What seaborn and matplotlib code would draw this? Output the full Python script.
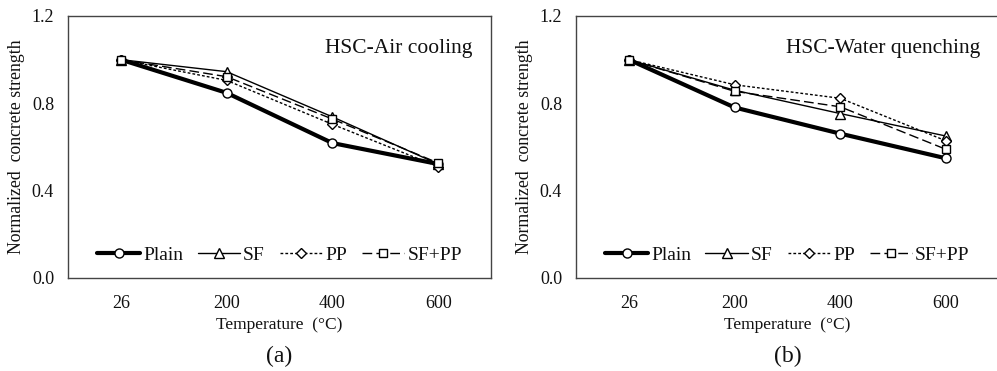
import matplotlib
matplotlib.use("Agg")
import matplotlib.pyplot as plt
import seaborn as sns
import pandas as pd
import numpy as np

temps = ["26", "200", "400", "600"]
series = ["Plain", "SF", "PP", "SF+PP"]

air_plain = [1.00, 0.848, 0.618, 0.522]
air_sf = [1.00, 0.945, 0.738, 0.522]
air_pp = [1.00, 0.905, 0.704, 0.510]
air_sfpp = [1.00, 0.922, 0.728, 0.527]

water_plain = [1.00, 0.781, 0.661, 0.548]
water_sf = [1.00, 0.860, 0.753, 0.650]
water_pp = [1.00, 0.885, 0.823, 0.628]
water_sfpp = [1.00, 0.855, 0.784, 0.589]

panel_titles = ["HSC-Air cooling", "HSC-Water quenching"]
panel_labels = ["(a)", "(b)"]

sns.set_theme(style="white")
plt.rcParams["font.family"] = ["Liberation Serif", "DejaVu Serif"]
plt.rcParams["text.color"] = "#111111"
plt.rcParams["axes.labelcolor"] = "#111111"
plt.rcParams["xtick.color"] = "#111111"
plt.rcParams["ytick.color"] = "#111111"

styles = {
    "Plain": dict(lw=3.0, ls="-", marker="o", ms=6.5),
    "SF": dict(lw=1.0, ls="-", marker="^", ms=6.5),
    "PP": dict(lw=1.0, ls=(0, (2, 1.5)), marker="D", ms=4.8),
    "SF+PP": dict(lw=1.0, ls=(0, (7, 3)), marker="s", ms=5.5),
}

def make_df(vals):
    rows = []
    for s, v in zip(series, vals):
        for t, y in zip(temps, v):
            rows.append({"Temperature": t, "Strength": y, "Series": s})
    return pd.DataFrame(rows)

data = [make_df([air_plain, air_sf, air_pp, air_sfpp]),
        make_df([water_plain, water_sf, water_pp, water_sfpp])]

fig = plt.figure(figsize=(9.97, 3.71), dpi=100)
W = 0.4243
axes = [fig.add_axes([0.0682, 0.2507, W, 0.7062]),
        fig.add_axes([0.5777, 0.2507, W, 0.7062])]

for i, ax in enumerate(axes):
    df = data[i]
    for s in series:
        st = styles[s]
        sub = df[df["Series"] == s]
        sns.lineplot(data=sub, x="Temperature", y="Strength", ax=ax,
                     color="black", linewidth=st["lw"], linestyle=st["ls"],
                     marker=st["marker"], markersize=st["ms"],
                     markerfacecolor="white", markeredgecolor="black",
                     markeredgewidth=1.0, label=s, sort=False)
    ax.set_xlim(-0.5, 3.5)
    ax.set_ylim(0, 1.2)
    ax.set_yticks([0.0, 0.4, 0.8, 1.2])
    ax.set_yticklabels(["0.0", "0.4", "0.8", "1.2"], fontsize=13)
    ax.set_xticks(range(4))
    ax.set_xticklabels(temps, fontsize=13)
    ax.set_xticks([-0.5, 0.5, 1.5, 2.5, 3.5], minor=True)
    ax.tick_params(axis="x", which="major", length=0, pad=12)
    ax.tick_params(axis="x", which="minor", length=6, width=1, direction="out", color="#333333")
    ax.tick_params(axis="y", which="major", length=6, width=1, direction="out", color="#333333", pad=4)
    for sp in ax.spines.values():
        sp.set_color("#444444")
        sp.set_linewidth(1.0)
    ax.set_xlabel("Temperature  (°C)", fontsize=12.5, labelpad=4)
    ax.set_ylabel("Normalized  concrete strength", fontsize=12.8, labelpad=5)
    ax.text(0.955, 0.875, panel_titles[i], transform=ax.transAxes, ha="right",
            va="center", fontsize=15.5)
    ax.text(0.5, -0.298, panel_labels[i], transform=ax.transAxes, ha="center",
            va="center", fontsize=17)
    leg = ax.legend(loc="center", bbox_to_anchor=(0.5, 0.088), ncol=4,
                    frameon=False, fontsize=14, handlelength=2.2,
                    handletextpad=0.15, columnspacing=0.75)

fig.savefig("out.png", dpi=100)
